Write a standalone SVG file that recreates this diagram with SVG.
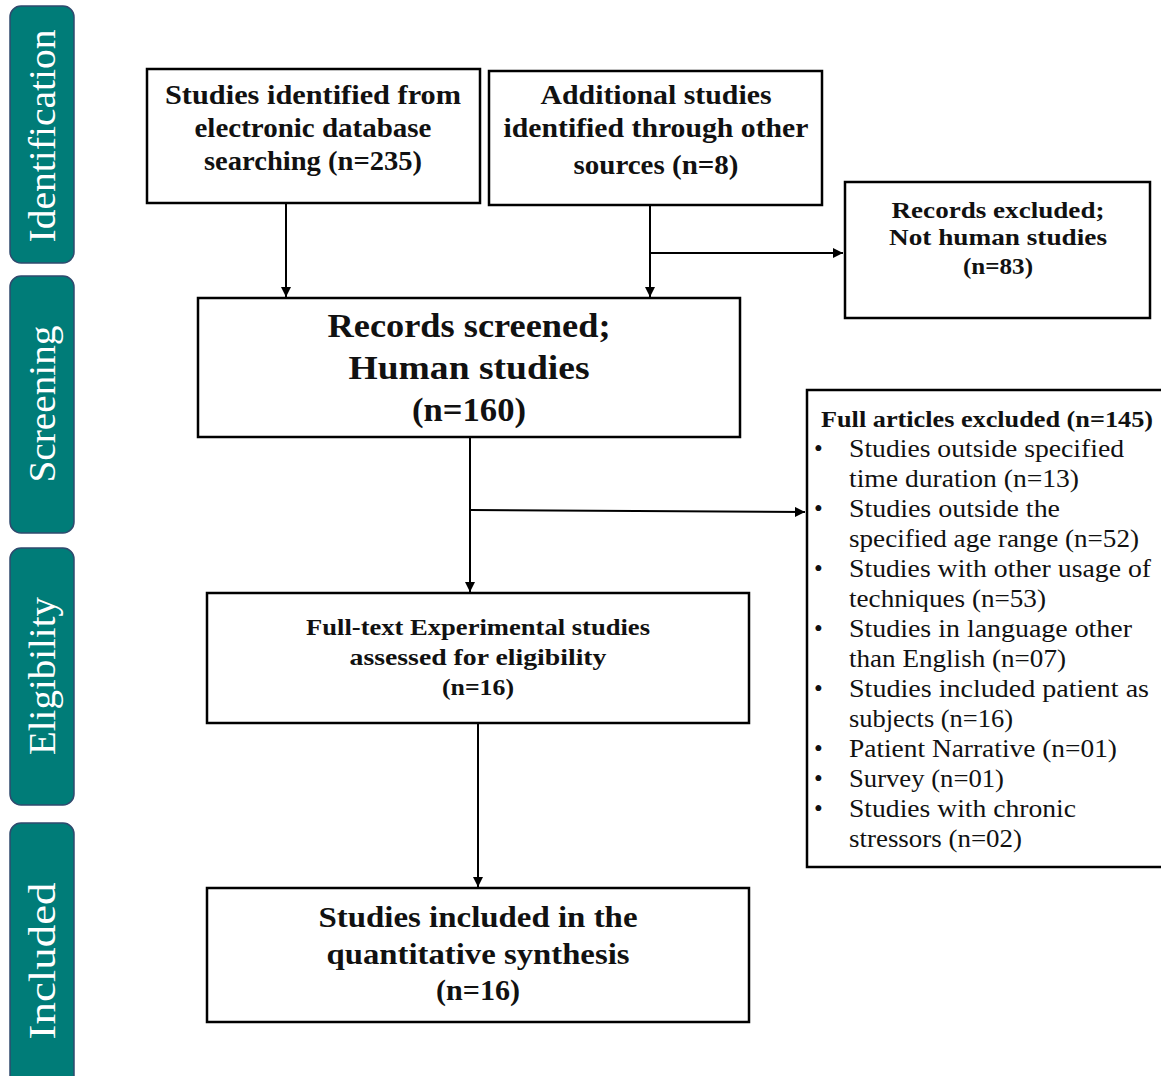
<svg xmlns="http://www.w3.org/2000/svg" width="1161" height="1076" viewBox="0 0 1161 1076">
<style>
.tab{fill:#007C78;stroke:#2F4A6E;stroke-width:1.5}
.tabt{font-family:"Liberation Serif",serif;font-size:38px;fill:#ffffff;text-anchor:middle}
.box{fill:#ffffff;stroke:#000000;stroke-width:2.5}
.b{font-family:"Liberation Serif",serif;font-weight:bold;fill:#111111;text-anchor:middle}
.bl{font-family:"Liberation Serif",serif;font-weight:bold;fill:#111111;text-anchor:start}
.r{font-family:"Liberation Serif",serif;fill:#111111}
.conn{stroke:#000000;stroke-width:2;fill:none;marker-end:url(#ah)}
</style>
<defs>
<marker id="ah" markerUnits="userSpaceOnUse" markerWidth="12" markerHeight="10" refX="10" refY="5" orient="auto">
<path d="M0,0 L10,5 L0,10 Z" fill="#000000"/>
</marker>
</defs>
<rect width="1161" height="1076" fill="#ffffff"/>

<g id="tab-identification">
<rect class="tab" x="10" y="6" width="64" height="257" rx="11"/>
<text class="tabt" transform="translate(55,136) rotate(-90)" textLength="213" lengthAdjust="spacingAndGlyphs">Identification</text>
</g>
<g id="tab-screening">
<rect class="tab" x="10" y="276" width="64" height="257" rx="11"/>
<text class="tabt" transform="translate(55,404) rotate(-90)" textLength="157" lengthAdjust="spacingAndGlyphs">Screening</text>
</g>
<g id="tab-eligibility">
<rect class="tab" x="10" y="548" width="64" height="257" rx="11"/>
<text class="tabt" transform="translate(55,676) rotate(-90)" textLength="158" lengthAdjust="spacingAndGlyphs">Eligibility</text>
</g>
<g id="tab-included">
<rect class="tab" x="10" y="823" width="64" height="280" rx="11"/>
<text class="tabt" transform="translate(55,961) rotate(-90)" textLength="157" lengthAdjust="spacingAndGlyphs">Included</text>
</g>

<g id="connectors">
<line class="conn" x1="286" y1="203" x2="286" y2="297"/>
<line class="conn" x1="650" y1="205" x2="650" y2="297"/>
<line class="conn" x1="650" y1="253" x2="843" y2="253"/>
<line class="conn" x1="470" y1="437" x2="470" y2="592"/>
<line class="conn" x1="470" y1="510" x2="805" y2="512"/>
<line class="conn" x1="478" y1="723" x2="478" y2="887"/>
</g>

<g id="node-database">
<rect class="box" x="147" y="69" width="333" height="134"/>
<text class="b" font-size="27"><tspan x="313" y="104" textLength="296" lengthAdjust="spacingAndGlyphs">Studies identified from</tspan><tspan x="313" y="137" textLength="237" lengthAdjust="spacingAndGlyphs">electronic database</tspan><tspan x="313" y="170" textLength="218" lengthAdjust="spacingAndGlyphs">searching (n=235)</tspan></text>
</g>
<g id="node-other-sources">
<rect class="box" x="489" y="71" width="333" height="134"/>
<text class="b" font-size="27"><tspan x="656" y="104" textLength="231" lengthAdjust="spacingAndGlyphs">Additional studies</tspan><tspan x="656" y="137" textLength="305" lengthAdjust="spacingAndGlyphs">identified through other</tspan><tspan x="656" y="174" textLength="165" lengthAdjust="spacingAndGlyphs">sources (n=8)</tspan></text>
</g>
<g id="node-records-excluded">
<rect class="box" x="845" y="182" width="305" height="136"/>
<text class="b" font-size="23"><tspan x="998" y="218" textLength="213" lengthAdjust="spacingAndGlyphs">Records excluded;</tspan><tspan x="998" y="245" textLength="218" lengthAdjust="spacingAndGlyphs">Not human studies</tspan><tspan x="998" y="274" textLength="70" lengthAdjust="spacingAndGlyphs">(n=83)</tspan></text>
</g>
<g id="node-screened">
<rect class="box" x="198" y="298" width="542" height="139"/>
<text class="b" font-size="34"><tspan x="469" y="337" textLength="283" lengthAdjust="spacingAndGlyphs">Records screened;</tspan><tspan x="469" y="379" textLength="241" lengthAdjust="spacingAndGlyphs">Human studies</tspan><tspan x="469" y="421" textLength="114" lengthAdjust="spacingAndGlyphs">(n=160)</tspan></text>
</g>
<g id="node-full-excluded">
<rect class="box" x="807" y="390" width="356" height="477"/>
<text class="bl" font-size="24" x="821" y="427" textLength="332" lengthAdjust="spacingAndGlyphs">Full articles excluded (n=145)</text>
<g class="r" font-size="25">
<text x="814" y="457">•</text>
<text x="814" y="517">•</text>
<text x="814" y="577">•</text>
<text x="814" y="637">•</text>
<text x="814" y="697">•</text>
<text x="814" y="757">•</text>
<text x="814" y="787">•</text>
<text x="814" y="817">•</text>
<text x="849" y="457" textLength="275" lengthAdjust="spacingAndGlyphs">Studies outside specified</text>
<text x="849" y="487" textLength="230" lengthAdjust="spacingAndGlyphs">time duration (n=13)</text>
<text x="849" y="517" textLength="211" lengthAdjust="spacingAndGlyphs">Studies outside the</text>
<text x="849" y="547" textLength="290" lengthAdjust="spacingAndGlyphs">specified age range (n=52)</text>
<text x="849" y="577" textLength="302" lengthAdjust="spacingAndGlyphs">Studies with other usage of</text>
<text x="849" y="607" textLength="197" lengthAdjust="spacingAndGlyphs">techniques (n=53)</text>
<text x="849" y="637" textLength="283" lengthAdjust="spacingAndGlyphs">Studies in language other</text>
<text x="849" y="667" textLength="217" lengthAdjust="spacingAndGlyphs">than English (n=07)</text>
<text x="849" y="697" textLength="300" lengthAdjust="spacingAndGlyphs">Studies included patient as</text>
<text x="849" y="727" textLength="164" lengthAdjust="spacingAndGlyphs">subjects (n=16)</text>
<text x="849" y="757" textLength="268" lengthAdjust="spacingAndGlyphs">Patient Narrative (n=01)</text>
<text x="849" y="787" textLength="155" lengthAdjust="spacingAndGlyphs">Survey (n=01)</text>
<text x="849" y="817" textLength="227" lengthAdjust="spacingAndGlyphs">Studies with chronic</text>
<text x="849" y="847" textLength="173" lengthAdjust="spacingAndGlyphs">stressors (n=02)</text>
</g>
</g>
<g id="node-eligibility">
<rect class="box" x="207" y="593" width="542" height="130"/>
<text class="b" font-size="23"><tspan x="478" y="635" textLength="344" lengthAdjust="spacingAndGlyphs">Full-text Experimental studies</tspan><tspan x="478" y="665" textLength="257" lengthAdjust="spacingAndGlyphs">assessed for eligibility</tspan><tspan x="478" y="695" textLength="72" lengthAdjust="spacingAndGlyphs">(n=16)</tspan></text>
</g>
<g id="node-included">
<rect class="box" x="207" y="888" width="542" height="134"/>
<text class="b" font-size="29"><tspan x="478" y="927" textLength="319" lengthAdjust="spacingAndGlyphs">Studies included in the</tspan><tspan x="478" y="964" textLength="303" lengthAdjust="spacingAndGlyphs">quantitative synthesis</tspan><tspan x="478" y="1000" textLength="84" lengthAdjust="spacingAndGlyphs">(n=16)</tspan></text>
</g>
</svg>
